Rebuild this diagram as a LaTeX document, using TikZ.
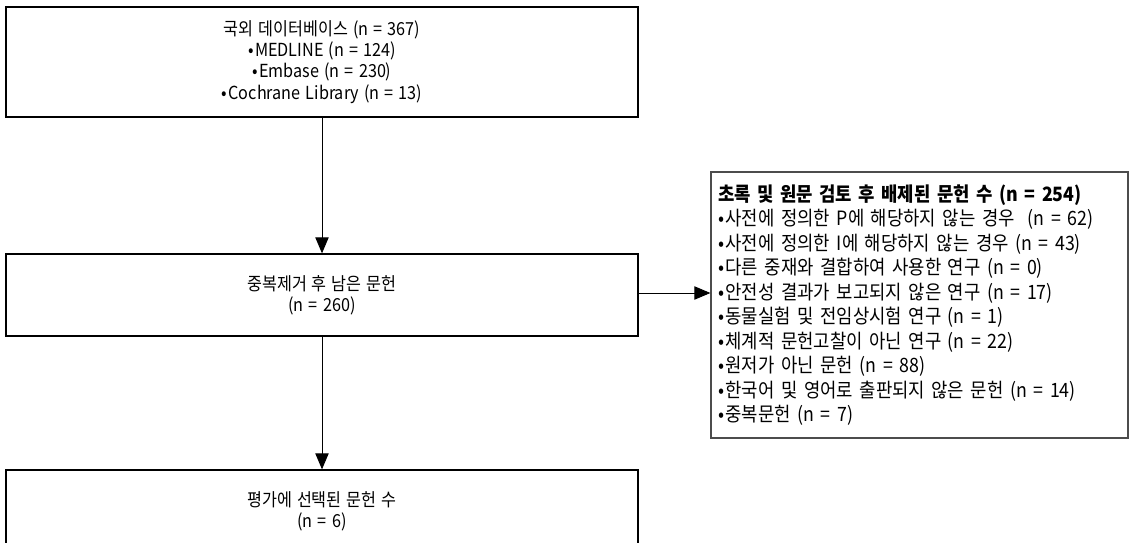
\documentclass[tikz,border=0pt]{standalone}
\usepackage{fontspec}
\setmainfont{Noto Sans CJK KR}[FakeStretch=0.9, WordSpace=1.4]
\usetikzlibrary{arrows.meta}
\newcommand{\bul}{•\hspace{0.08em}}
\tikzset{
  flowbox/.style={draw=black, line width=1.3pt*0.75, fill=white, minimum width={632*0.75pt}, align=center, inner sep=0pt, font=\fontsize{13.5pt}{15.9pt}\selectfont},
  sidebox/.style={draw=black!70, line width=1.2pt*0.75, fill=white, minimum height={266*0.75pt}, text width={403*0.75pt}, inner xsep={7*0.75pt}, inner ysep=0pt, align=left, font=\fontsize{14.8pt}{18.4pt}\selectfont},
  flowarrow/.style={line width=0.9pt*0.75, -{Triangle[length=12pt,width=10pt]}}
}
\begin{document}
\begin{tikzpicture}[x=0.75pt,y=-0.75pt]
\useasboundingbox (0,0) rectangle (1129,543);
\clip (0,0) rectangle (1129,543);
\node[flowbox, minimum height={110*0.75pt}] (top) at (322,62)
  {국외 데이터베이스 (n = 367)\\\bul MEDLINE (n = 124)\\\bul Embase (n = 230)\\\bul Cochrane Library (n = 13)};
\node[flowbox, minimum height={82*0.75pt}] (mid) at (322,295)
  {중복제거 후 남은 문헌\\(n = 260)};
\node[flowbox, minimum height={82*0.75pt}] (bot) at (322,511)
  {평가에 선택된 문헌 수\\(n = 6)};
\node[sidebox] (side) at (919.5,305)
  {\textbf{초록 및 원문 검토 후 배제된 문헌 수 (n = 254)}\\
   \bul 사전에 정의한 P에 해당하지 않는 경우~ (n = 62)\\
   \bul 사전에 정의한 I에 해당하지 않는 경우 (n = 43)\\
   \bul 다른 중재와 결합하여 사용한 연구 (n = 0)\\
   \bul 안전성 결과가 보고되지 않은 연구 (n = 17)\\
   \bul 동물실험 및 전임상시험 연구 (n = 1)\\
   \bul 체계적 문헌고찰이 아닌 연구 (n = 22)\\
   \bul 원저가 아닌 문헌 (n = 88)\\
   \bul 한국어 및 영어로 출판되지 않은 문헌 (n = 14)\\
   \bul 중복문헌 (n = 7)};
\draw[flowarrow] (top) -- (mid);
\draw[flowarrow] (mid) -- (bot);
\draw[flowarrow] ([yshift=1.5pt]mid.east) -- ([yshift=1.5pt]mid.east -| side.west);
\end{tikzpicture}
\end{document}
